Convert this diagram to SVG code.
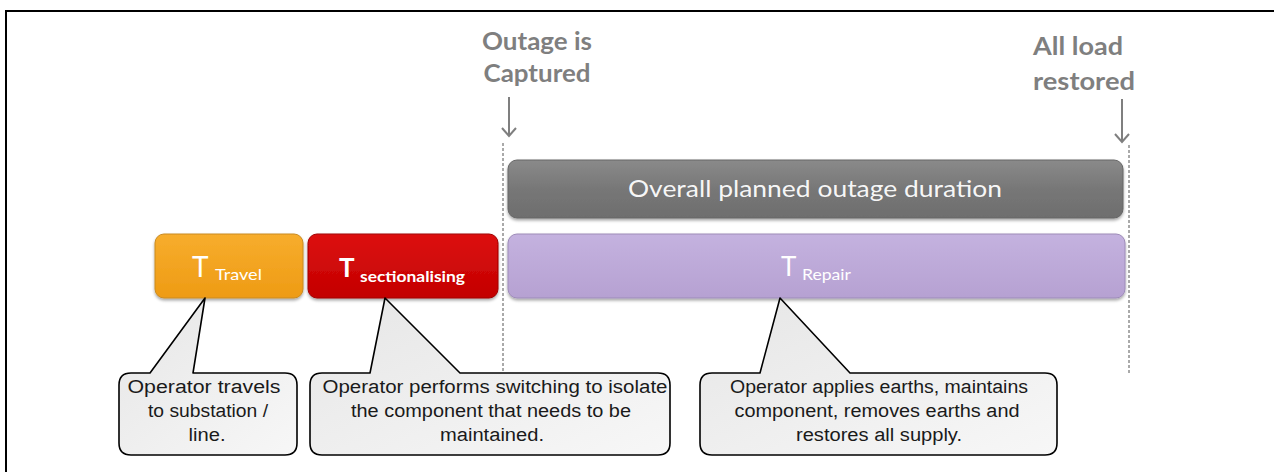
<svg xmlns="http://www.w3.org/2000/svg" width="1274" height="472" viewBox="0 0 1274 472">
<style>
.hdr{font-family:Lato,"Open Sans",sans-serif;font-weight:bold;font-size:24px;fill:#7f7f7f}
.bx{font-family:Lato,"Open Sans",sans-serif;fill:#ffffff}
.ct{font-family:"Liberation Sans",Arial,sans-serif;font-size:18px;fill:#1a1a1a;text-anchor:middle}
.call{fill:url(#gCall);stroke:#000;stroke-width:1.6;stroke-linejoin:round}
.dash{stroke:#555;stroke-width:1;stroke-dasharray:3,2;fill:none}
.arr{stroke:#7f7f7f;stroke-width:2;fill:none}
</style>
<defs>
<linearGradient id="gGray" x1="0" y1="0" x2="0" y2="1"><stop offset="0" stop-color="#8a8a8a"/><stop offset="0.5" stop-color="#777"/><stop offset="1" stop-color="#6e6e6e"/></linearGradient>
<linearGradient id="gPurp" x1="0" y1="0" x2="0" y2="1"><stop offset="0" stop-color="#c4b2df"/><stop offset="1" stop-color="#b6a1d2"/></linearGradient>
<linearGradient id="gOr" x1="0" y1="0" x2="0" y2="1"><stop offset="0" stop-color="#f7ad2d"/><stop offset="1" stop-color="#ee9b14"/></linearGradient>
<linearGradient id="gRed" x1="0" y1="0" x2="0" y2="1"><stop offset="0" stop-color="#dd1010"/><stop offset="1" stop-color="#c30000"/></linearGradient>
<linearGradient id="gCall" x1="0" y1="0" x2="1" y2="1"><stop offset="0" stop-color="#e6e6e6"/><stop offset="1" stop-color="#f7f7f7"/></linearGradient>
<filter id="sh" x="-5%" y="-20%" width="110%" height="150%"><feDropShadow dx="0" dy="2" stdDeviation="1.5" flood-color="#000" flood-opacity="0.35"/></filter>
</defs>
<rect x="6" y="11" width="1290" height="480" fill="#fff" stroke="#000" stroke-width="2"/>

<g id="marker-captured">
<text class="hdr" x="537" y="50" text-anchor="middle" textLength="110" lengthAdjust="spacingAndGlyphs">Outage is</text>
<text class="hdr" x="537" y="82" text-anchor="middle" textLength="107" lengthAdjust="spacingAndGlyphs">Captured</text>
</g>
<g id="marker-restored">
<text class="hdr" x="1078" y="55" text-anchor="middle" textLength="90" lengthAdjust="spacingAndGlyphs">All load</text>
<text class="hdr" x="1084" y="90" text-anchor="middle" textLength="102" lengthAdjust="spacingAndGlyphs">restored</text>
</g>

<g id="connectors">
<line class="dash" x1="503" y1="143" x2="503" y2="375"/>
<line class="dash" x1="1129" y1="145" x2="1129" y2="375"/>
<line class="arr" x1="509" y1="97" x2="509" y2="136"/>
<polyline class="arr" points="502,128 509,136 516,128"/>
<line class="arr" x1="1122" y1="99" x2="1122" y2="142"/>
<polyline class="arr" points="1115,134 1122,142 1129,134"/>
</g>

<g id="overall">
<rect x="508" y="160" width="615" height="58" rx="9" fill="url(#gGray)" stroke="#666" stroke-width="1" filter="url(#sh)"/>
<text class="bx" x="815" y="197" font-size="23" text-anchor="middle" textLength="374" lengthAdjust="spacingAndGlyphs" fill-opacity="0.95">Overall planned outage duration</text>
</g>
<g id="t-travel">
<rect x="155" y="234" width="148" height="64" rx="9" fill="url(#gOr)" stroke="#c98a20" stroke-width="1" filter="url(#sh)"/>
<text class="bx" x="192" y="277" font-size="28" fill="#fde9c8">T</text>
<text class="bx" x="215" y="280" font-size="16" fill="#fde9c8" textLength="47" lengthAdjust="spacingAndGlyphs">Travel</text>
</g>
<g id="t-sectionalising">
<rect x="308" y="234" width="190" height="64" rx="9" fill="url(#gRed)" stroke="#a00000" stroke-width="1" filter="url(#sh)"/>
<text class="bx" x="339" y="277" font-size="26" font-weight="bold">T</text>
<text class="bx" x="360" y="282" font-size="15" font-weight="bold" textLength="105" lengthAdjust="spacingAndGlyphs">sectionalising</text>
</g>
<g id="t-repair">
<rect x="508" y="234" width="617" height="64" rx="9" fill="url(#gPurp)" stroke="#9d8bb8" stroke-width="1" filter="url(#sh)"/>
<text class="bx" x="781" y="276" font-size="26" fill="#f3eef9">T</text>
<text class="bx" x="802" y="280" font-size="16" fill="#f3eef9" textLength="49" lengthAdjust="spacingAndGlyphs">Repair</text>
</g>

<g id="callout-travel">
<path class="call" d="M131,373 L150,373 L205,298 L193,373 L285,373 Q297,373 297,385 L297,443 Q297,455 285,455 L131,455 Q119,455 119,443 L119,385 Q119,373 131,373 Z"/>
<text class="ct" x="204" y="393" textLength="153" lengthAdjust="spacingAndGlyphs">Operator travels</text>
<text class="ct" x="208" y="417" textLength="120" lengthAdjust="spacingAndGlyphs">to substation /</text>
<text class="ct" x="207" y="441" textLength="37" lengthAdjust="spacingAndGlyphs">line.</text>
</g>
<g id="callout-sectionalising">
<path class="call" d="M322,373 L370,373 L385,298 L460,373 L658,373 Q670,373 670,385 L670,443 Q670,455 658,455 L322,455 Q310,455 310,443 L310,385 Q310,373 322,373 Z"/>
<text class="ct" x="495" y="393" textLength="345" lengthAdjust="spacingAndGlyphs">Operator performs switching to isolate</text>
<text class="ct" x="491" y="417" textLength="280" lengthAdjust="spacingAndGlyphs">the component that needs to be</text>
<text class="ct" x="492" y="441" textLength="104" lengthAdjust="spacingAndGlyphs">maintained.</text>
</g>
<g id="callout-repair">
<path class="call" d="M712,373 L760,373 L780,298 L850,373 L1045,373 Q1057,373 1057,385 L1057,443 Q1057,455 1045,455 L712,455 Q700,455 700,443 L700,385 Q700,373 712,373 Z"/>
<text class="ct" x="879" y="393" textLength="298" lengthAdjust="spacingAndGlyphs">Operator applies  earths, maintains</text>
<text class="ct" x="877" y="417" textLength="285" lengthAdjust="spacingAndGlyphs">component,  removes earths and</text>
<text class="ct" x="879" y="441" textLength="166" lengthAdjust="spacingAndGlyphs">restores all  supply.</text>
</g>
</svg>
